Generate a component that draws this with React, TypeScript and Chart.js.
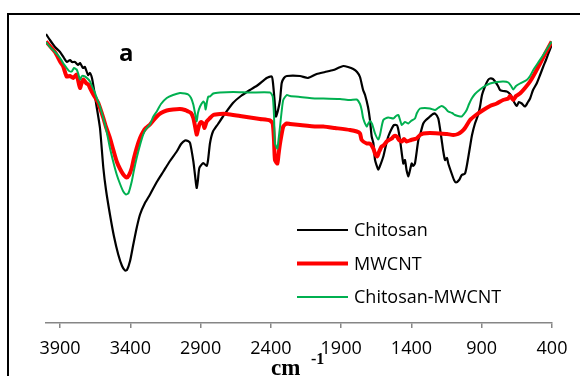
import { useEffect, useRef } from 'react';
import { Chart, registerables } from 'chart.js';

Chart.register(...registerables);

// Series names and x-axis tick labels (wavenumber, cm^-1)
const seriesNames = ['Chitosan', 'MWCNT', 'Chitosan-MWCNT'];
const tickValues = [3900, 3400, 2900, 2400, 1900, 1400, 900, 400];
const panelLabel = 'a';

// [wavenumber, transmittance (arbitrary units)]
const chitosan: [number, number][] = [
  [4000, 57.8], [3972, 56.6], [3936, 55.2], [3900, 54.2], [3872, 53.0], [3851, 52.2], [3829, 52.6],
  [3815, 52.2], [3794, 52.2], [3772, 51.6], [3758, 52.0], [3737, 51.0], [3723, 51.2], [3701, 49.6],
  [3687, 50.0], [3673, 49.0], [3658, 46.6], [3644, 44.0], [3616, 39.0], [3592, 31.0], [3573, 26.6],
  [3545, 21.7], [3517, 17.4], [3486, 13.7], [3459, 11.4], [3438, 10.5], [3424, 10.6], [3402, 12.4],
  [3381, 15.4], [3355, 19.0], [3331, 21.7], [3296, 24.0], [3260, 25.7], [3212, 28.2], [3165, 30.3],
  [3118, 32.4], [3070, 34.3], [3039, 35.8], [3011, 36.5], [2990, 36.4], [2975, 36.0], [2952, 32.4],
  [2940, 29.6], [2928, 27.0], [2919, 28.6], [2909, 31.0], [2881, 32.0], [2857, 31.4], [2847, 32.6],
  [2833, 36.0], [2812, 38.3], [2776, 39.8], [2741, 41.3], [2670, 44.0], [2613, 45.4], [2549, 46.6],
  [2492, 47.6], [2430, 49.0], [2394, 49.3], [2385, 48.0], [2374, 44.6], [2364, 41.3], [2349, 42.6],
  [2335, 44.6], [2323, 48.0], [2307, 49.0], [2287, 49.4], [2193, 49.4], [2136, 49.0], [2074, 49.8],
  [2015, 50.2], [1956, 50.6], [1922, 51.0], [1885, 51.4], [1851, 51.2], [1814, 50.8], [1787, 50.2],
  [1766, 49.2], [1744, 46.6], [1730, 45.6], [1709, 43.2], [1695, 40.6], [1683, 37.3], [1671, 36.0],
  [1659, 32.6], [1636, 30.7], [1624, 31.4], [1600, 33.3], [1581, 35.6], [1565, 37.3], [1540, 38.9],
  [1524, 39.6], [1505, 39.6], [1496, 39.0], [1481, 36.6], [1458, 31.9], [1446, 32.6], [1435, 30.6],
  [1422, 29.3], [1410, 30.6], [1398, 31.9], [1389, 31.4], [1375, 31.9], [1351, 36.6], [1339, 37.6],
  [1316, 39.9], [1297, 40.6], [1268, 41.3], [1247, 41.8], [1232, 41.9], [1209, 40.9], [1185, 36.6],
  [1175, 34.6], [1161, 32.6], [1147, 33.0], [1138, 31.9], [1114, 29.9], [1097, 28.6], [1083, 28.1],
  [1061, 28.6], [1042, 29.6], [1019, 29.9], [1005, 31.6], [983, 35.3], [969, 37.6], [948, 39.9],
  [926, 41.6], [912, 43.3], [898, 45.6], [877, 47.3], [855, 48.6], [841, 48.9], [820, 48.8],
  [805, 48.3], [784, 47.4], [770, 46.6], [748, 46.4], [722, 46.3], [706, 46.0], [687, 45.3],
  [670, 44.2], [651, 43.4], [635, 44.2], [615, 43.9], [592, 43.3], [571, 44.2], [556, 44.9],
  [535, 46.6], [509, 47.9], [485, 49.6], [462, 51.3], [443, 52.6], [426, 53.9], [402, 55.6],
];

const mwcnt: [number, number][] = [
  [4000, 56.3], [3972, 55.4], [3936, 54.2], [3900, 52.3], [3879, 51.4], [3853, 49.3], [3829, 49.4],
  [3806, 49.0], [3782, 49.7], [3772, 48.6], [3758, 47.0], [3744, 48.2], [3735, 48.7], [3715, 48.0],
  [3699, 47.7], [3687, 47.0], [3663, 45.7], [3644, 44.8], [3628, 44.0], [3592, 41.0], [3573, 39.2],
  [3545, 37.0], [3523, 34.8], [3497, 32.3], [3473, 30.8], [3450, 29.7], [3426, 29.1], [3409, 29.6],
  [3390, 31.0], [3374, 33.0], [3355, 35.0], [3331, 37.0], [3308, 38.3], [3289, 39.0], [3260, 39.7],
  [3212, 41.3], [3182, 42.0], [3141, 42.5], [3096, 42.7], [3047, 42.8], [3011, 42.6], [2988, 42.3],
  [2968, 42.0], [2952, 41.0], [2940, 39.4], [2928, 37.7], [2919, 38.6], [2909, 39.7], [2897, 40.2],
  [2881, 39.8], [2872, 39.0], [2857, 40.3], [2833, 41.0], [2810, 41.6], [2762, 41.8], [2714, 41.8],
  [2620, 41.4], [2549, 41.1], [2478, 40.8], [2406, 40.5], [2387, 39.9], [2378, 36.6], [2371, 32.6],
  [2354, 31.9], [2346, 33.6], [2335, 35.9], [2312, 39.3], [2287, 39.9], [2264, 39.8], [2193, 39.6],
  [2074, 39.3], [2027, 39.3], [1944, 39.0], [1837, 38.6], [1789, 38.3], [1766, 37.9], [1754, 36.6],
  [1718, 35.9], [1695, 35.9], [1671, 34.9], [1659, 33.9], [1643, 33.3], [1631, 34.2], [1612, 35.3],
  [1595, 35.6], [1576, 36.3], [1560, 36.6], [1540, 36.9], [1524, 37.4], [1505, 37.3], [1488, 36.6],
  [1469, 36.3], [1453, 36.8], [1434, 36.3], [1403, 36.6], [1363, 36.9], [1339, 37.6], [1316, 37.9],
  [1268, 38.0], [1197, 37.9], [1147, 37.8], [1102, 37.6], [1069, 37.8], [1042, 38.3], [1019, 39.0],
  [983, 40.6], [941, 41.6], [889, 42.6], [841, 43.4], [793, 43.9], [748, 44.6], [711, 44.9],
  [699, 45.4], [675, 44.6], [656, 45.4], [628, 45.9], [592, 47.0], [556, 48.3], [521, 50.0],
  [485, 51.9], [450, 53.8], [402, 56.3],
];

const chitosanMwcnt: [number, number][] = [
  [4000, 56.2], [3972, 55.2], [3936, 54.2], [3900, 53.0], [3879, 52.0], [3853, 51.0], [3836, 50.4],
  [3817, 50.3], [3801, 51.0], [3782, 50.7], [3772, 50.0], [3758, 48.7], [3744, 49.4], [3723, 49.3],
  [3701, 48.8], [3687, 48.3], [3673, 47.4], [3651, 46.0], [3634, 44.6], [3616, 43.3], [3580, 39.7],
  [3562, 37.4], [3545, 35.0], [3523, 32.4], [3497, 29.7], [3473, 27.8], [3450, 26.3], [3431, 25.7],
  [3413, 26.0], [3390, 28.3], [3374, 30.6], [3355, 33.0], [3331, 35.6], [3308, 37.7], [3289, 38.8],
  [3260, 39.7], [3238, 41.2], [3212, 42.3], [3182, 43.8], [3141, 45.0], [3096, 45.6], [3047, 46.0],
  [3011, 45.9], [2988, 45.7], [2968, 45.0], [2952, 43.7], [2940, 42.0], [2928, 40.3], [2919, 42.0],
  [2904, 43.3], [2881, 44.3], [2872, 44.0], [2864, 42.7], [2855, 44.2], [2845, 45.3], [2833, 45.3],
  [2810, 45.9], [2762, 46.1], [2667, 46.2], [2549, 46.1], [2406, 46.1], [2387, 45.3], [2378, 41.6],
  [2371, 35.9], [2354, 34.9], [2346, 36.6], [2335, 39.3], [2324, 42.2], [2312, 44.6], [2287, 45.6],
  [2264, 45.4], [2193, 45.2], [2074, 44.9], [2027, 44.9], [1908, 44.8], [1837, 44.6], [1789, 44.7],
  [1766, 43.8], [1754, 42.6], [1743, 40.9], [1718, 39.3], [1709, 39.8], [1695, 40.4], [1680, 39.8],
  [1659, 37.9], [1636, 36.7], [1624, 37.6], [1600, 40.6], [1565, 41.1], [1529, 40.9], [1510, 41.4],
  [1493, 41.6], [1481, 40.6], [1469, 39.6], [1446, 40.2], [1422, 39.9], [1403, 40.4], [1375, 40.9],
  [1361, 42.0], [1339, 42.9], [1304, 43.0], [1268, 42.9], [1232, 42.6], [1211, 43.0], [1185, 43.4],
  [1161, 43.0], [1138, 42.3], [1111, 42.0], [1090, 41.6], [1069, 41.4], [1042, 41.3], [1026, 41.8],
  [1007, 42.6], [990, 43.8], [971, 44.9], [948, 45.8], [912, 46.7], [877, 47.4], [841, 47.9],
  [791, 48.2], [746, 48.3], [711, 48.1], [691, 47.4], [675, 46.7], [656, 47.4], [628, 47.9],
  [580, 48.6], [556, 49.4], [533, 50.6], [500, 52.0], [462, 53.6], [436, 54.8], [402, 56.3],
];

const seriesColors = ['#000000', '#ff0000', '#00b050'];
const seriesWidths = [2.2, 4, 2];

const decorPlugin = {
  id: 'decor',
  afterDraw(chart: any) {
    const ctx = chart.ctx as CanvasRenderingContext2D;
    ctx.save();
    // outer frame (top + left visible)
    ctx.strokeStyle = '#000';
    ctx.lineWidth = 2;
    ctx.beginPath();
    ctx.moveTo(8, 400);
    ctx.lineTo(8, 14);
    ctx.lineTo(600, 14);
    ctx.stroke();

    // panel label
    ctx.fillStyle = '#000';
    ctx.textBaseline = 'alphabetic';
    ctx.textAlign = 'left';
    ctx.font = 'bold 24px "Open Sans"';
    ctx.fillText(panelLabel, 119, 61);

    // legend
    chart.data.datasets.forEach((ds: any, i: number) => {
      const y = 230 + i * 33.5;
      ctx.strokeStyle = ds.borderColor;
      ctx.lineWidth = ds.borderWidth;
      ctx.beginPath();
      ctx.moveTo(297, y);
      ctx.lineTo(348, y);
      ctx.stroke();
      ctx.fillStyle = '#000';
      ctx.font = '18px "Open Sans"';
      ctx.textBaseline = 'middle';
      ctx.fillText(ds.label, 354, y + 1);
    });

    // axis title "cm -1"
    ctx.textBaseline = 'alphabetic';
    ctx.font = 'bold 23px "Liberation Serif"';
    ctx.fillText('cm', 271, 375);
    ctx.font = 'bold 16px "Liberation Serif"';
    ctx.fillText('-1', 311, 364);
    ctx.restore();
  },
};

export default function App() {
  const ref = useRef<HTMLCanvasElement>(null);
  useEffect(() => {
    const all = [chitosan, mwcnt, chitosanMwcnt];
    const chart = new Chart(ref.current!, {
      type: 'line',
      data: {
        datasets: all.map((arr, i) => ({
          label: seriesNames[i],
          data: arr.map(([x, y]) => ({ x, y })),
          borderColor: seriesColors[i],
          backgroundColor: seriesColors[i],
          borderWidth: seriesWidths[i],
          pointRadius: 0,
          tension: 0.2,
          fill: false,
          order: 2 - i,
        })),
      },
      options: {
        responsive: false,
        animation: false,
        layout: { padding: { left: 46, right: 28, top: 23, bottom: 0 } },
        plugins: { legend: { display: false }, tooltip: { enabled: false } },
        scales: {
          x: {
            type: 'linear',
            reverse: true,
            min: 400,
            max: 4000,
            afterBuildTicks: (s: any) => {
              s.ticks = tickValues.map((v) => ({ value: v }));
            },
            afterFit: (s: any) => {
              s.height = 53;
            },
            grid: { drawOnChartArea: false, drawTicks: true, tickLength: 5, color: '#868686', lineWidth: 1.5 },
            border: { color: '#868686', width: 1.5 },
            ticks: {
              padding: 10,
              color: '#000',
              font: { family: 'Open Sans', size: 18 },
              maxRotation: 0,
              autoSkip: false,
              callback: (v: any) => String(v),
            },
          },
          y: { display: false, min: 0, max: 60 },
        },
      },
      plugins: [decorPlugin],
    } as any);
    return () => chart.destroy();
  }, []);
  return (
    <div style={{ position: 'fixed', left: 0, top: 0, width: 580, height: 376, background: '#fff' }}>
      <canvas ref={ref} width={580} height={376} style={{ display: 'block' }} />
    </div>
  );
}
